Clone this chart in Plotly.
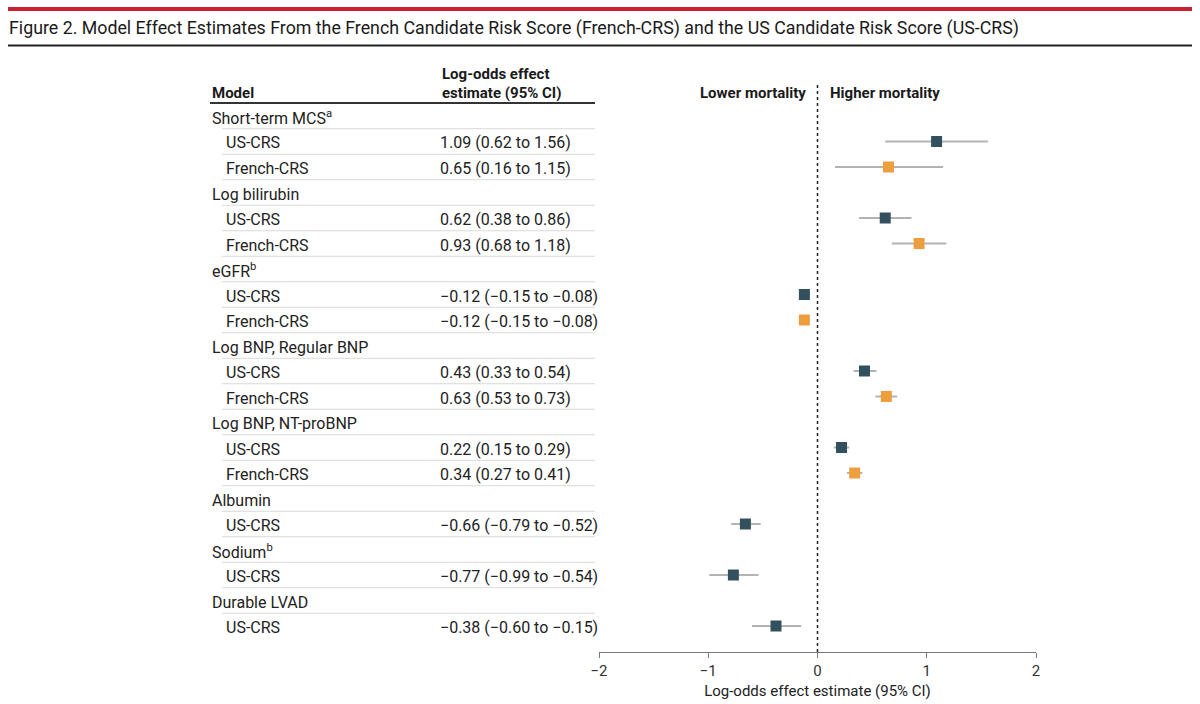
import plotly.graph_objects as go

# ---------------- data ----------------
groups = ["Short-term MCS<sup>a</sup>", "Log bilirubin", "eGFR<sup>b</sup>",
          "Log BNP, Regular BNP", "Log BNP, NT-proBNP", "Albumin",
          "Sodium<sup>b</sup>", "Durable LVAD"]
us_est = [1.09, 0.62, -0.12, 0.43, 0.22, -0.66, -0.77, -0.38]
us_lo = [0.62, 0.38, -0.15, 0.33, 0.15, -0.79, -0.99, -0.60]
us_hi = [1.56, 0.86, -0.08, 0.54, 0.29, -0.52, -0.54, -0.15]
fr_est = [0.65, 0.93, -0.12, 0.63, 0.34, None, None, None]
fr_lo = [0.16, 0.68, -0.15, 0.53, 0.27, None, None, None]
fr_hi = [1.15, 1.18, -0.08, 0.73, 0.41, None, None, None]
tick_vals = [-2, -1, 0, 1, 2]
tick_text = ["−2", "−1", "0", "1", "2"]

FONT = "Roboto"
W, H = 1200, 704
ROW0, ROWH = 116, 25.5
X_LEFT, X_RIGHT = 599, 1036
PLOT_TOP, PLOT_BOT = 82, 652

US_COL = "#33505f"
FR_COL = "#ee9f3d"
CI_COL = "#b3b3b3"


def fmt(v):
    s = f"{v:.2f}"
    return s.replace("-", "−")


def py(p):
    return 1 - p / H


def px(p):
    return p / W


# build rows
rows = []  # (label, kind, est, lo, hi, series)
for i, g in enumerate(groups):
    rows.append((g, "group", None, None, None, None))
    rows.append(("US-CRS", "sub", us_est[i], us_lo[i], us_hi[i], "us"))
    if fr_est[i] is not None:
        rows.append(("French-CRS", "sub", fr_est[i], fr_lo[i], fr_hi[i], "fr"))

row_y = [ROW0 + k * ROWH for k in range(len(rows))]

fig = go.Figure()

# CI lines
ci_x, ci_y = [], []
for (lab, kind, e, lo, hi, s), y in zip(rows, row_y):
    if kind == "sub":
        ci_x += [lo, hi, None]
        ci_y += [y, y, None]
fig.add_trace(go.Scatter(x=ci_x, y=ci_y, mode="lines",
                         line=dict(color=CI_COL, width=2),
                         hoverinfo="skip", showlegend=False))

for ser, col in (("us", US_COL), ("fr", FR_COL)):
    xs = [e for (lab, kind, e, lo, hi, s) in rows if s == ser]
    ys = [y for (lab, kind, e, lo, hi, s), y in zip(rows, row_y) if s == ser]
    fig.add_trace(go.Scatter(x=xs, y=ys, mode="markers",
                             marker=dict(symbol="square", size=11, color=col,
                                         line=dict(width=0)),
                             showlegend=False))

ann = []
shapes = []
TS = -1.5  # small downward shift so glyphs sit centred on their row

# top red line, title, black rule
shapes.append(dict(type="line", xref="paper", yref="paper",
                   x0=px(8), x1=px(1192), y0=py(9), y1=py(9),
                   line=dict(color="#c8202f", width=4)))
shapes.append(dict(type="line", xref="paper", yref="paper",
                   x0=px(8), x1=px(1192), y0=py(45.5), y1=py(45.5),
                   line=dict(color="#222222", width=2)))
ann.append(dict(text="Figure 2. Model Effect Estimates From the French Candidate Risk Score "
                     "(French-CRS) and the US Candidate Risk Score (US-CRS)",
                x=px(7), y=py(27), xref="paper", yref="paper", yshift=TS,
                xanchor="left", yanchor="middle", showarrow=False,
                font=dict(family=FONT, size=17.8, color="#1a1a1a")))

# table header
hdr_font = dict(family=FONT, size=15, color="#1a1a1a", weight="bold")
ann.append(dict(text="Model", x=px(210), y=py(92), xref="paper", yref="paper", yshift=TS,
                xanchor="left", yanchor="middle", showarrow=False, font=hdr_font))
ann.append(dict(text="Log-odds effect", x=px(440), y=py(72), xref="paper", yref="paper",
                yshift=TS, xanchor="left", yanchor="middle", showarrow=False, font=hdr_font))
ann.append(dict(text="estimate (95% CI)", x=px(440), y=py(92), xref="paper", yref="paper",
                yshift=TS, xanchor="left", yanchor="middle", showarrow=False, font=hdr_font))
shapes.append(dict(type="line", xref="paper", yref="paper",
                   x0=px(210), x1=px(595), y0=py(103), y1=py(103),
                   line=dict(color="#333333", width=2)))

# forest header
ann.append(dict(text="Lower mortality", x=0, y=py(92), xref="x", yref="paper", yshift=TS,
                xanchor="right", yanchor="middle", xshift=-10, showarrow=False,
                font=hdr_font))
ann.append(dict(text="Higher mortality", x=0, y=py(92), xref="x", yref="paper", yshift=TS,
                xanchor="left", yanchor="middle", xshift=10, showarrow=False,
                font=hdr_font))

# table rows
txt_font = dict(family=FONT, size=16, color="#222222")
for k, ((lab, kind, e, lo, hi, s), y) in enumerate(zip(rows, row_y)):
    xl = 210 if kind == "group" else 224
    ann.append(dict(text=lab, x=px(xl), y=py(y), xref="paper", yref="paper", yshift=TS,
                    xanchor="left", yanchor="middle", showarrow=False, font=txt_font))
    if kind == "sub":
        ann.append(dict(text=f"{fmt(e)} ({fmt(lo)} to {fmt(hi)})",
                        x=px(438), y=py(y), xref="paper", yref="paper", yshift=TS,
                        xanchor="left", yanchor="middle", showarrow=False,
                        font=txt_font))
    if k < len(rows) - 1:
        ys = y + ROWH / 2
        shapes.append(dict(type="line", xref="paper", yref="paper",
                           x0=px(222), x1=px(595), y0=py(ys), y1=py(ys),
                           line=dict(color="#d9d9d9", width=1)))

# zero dotted line
shapes.append(dict(type="line", xref="x", yref="paper", x0=0, x1=0,
                   y0=py(PLOT_BOT), y1=py(PLOT_TOP),
                   line=dict(color="#222222", width=1.5, dash="dot")))

fig.update_layout(
    width=W, height=H,
    margin=dict(l=0, r=0, t=0, b=0, autoexpand=False),
    paper_bgcolor="white", plot_bgcolor="white",
    font=dict(family=FONT),
    annotations=ann, shapes=shapes,
    xaxis=dict(domain=[px(X_LEFT), px(X_RIGHT)], range=[-2, 2],
               tickvals=tick_vals, ticktext=tick_text,
               showgrid=False, zeroline=False, showline=True,
               linecolor="#777777", linewidth=1,
               ticks="outside", ticklen=5, tickcolor="#777777",
               tickfont=dict(family=FONT, size=15, color="#333333"),
               title=dict(text="Log-odds effect estimate (95% CI)",
                          font=dict(family=FONT, size=15, color="#222222"),
                          standoff=6),
               automargin=False, fixedrange=True),
    yaxis=dict(domain=[py(PLOT_BOT), py(PLOT_TOP)], range=[PLOT_BOT, PLOT_TOP],
               visible=False, automargin=False, fixedrange=True),
)

fig.write_html("out.html", config={"displayModeBar": False})

# remove the default page margin so the figure fills the window exactly
with open("out.html", "r", encoding="utf-8") as f:
    html = f.read()
html = html.replace("<head>", "<head><style>html,body{margin:0;padding:0;overflow:hidden;}</style>", 1)
with open("out.html", "w", encoding="utf-8") as f:
    f.write(html)
